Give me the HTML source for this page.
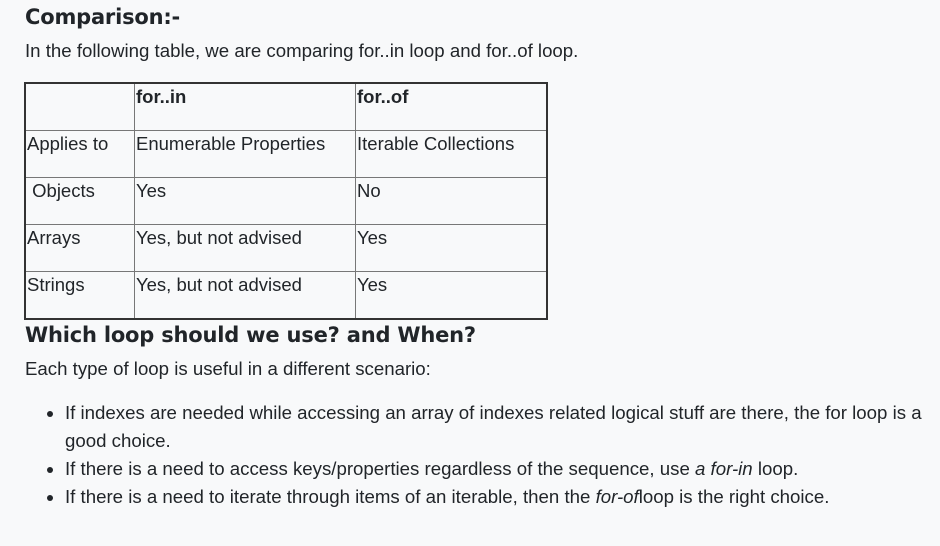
<!DOCTYPE html>
<html><head><meta charset="utf-8"><style>
html,body{margin:0;padding:0;width:940px;height:546px;background:#f8f9fa;overflow:hidden;}
body{font-family:"Liberation Sans",Arial,sans-serif;color:#212529;position:relative;}
.a{position:absolute;white-space:nowrap;}
.t{font-size:18.65px;line-height:20px;}
table{position:absolute;left:24px;top:82px;border-collapse:collapse;border:2px solid #333;font-size:18.5px;}
td{border:1px solid #777;height:43px;vertical-align:top;padding:3px 1px 0 1px;line-height:20px;}
i{font-style:italic;}
.dot{position:absolute;width:6px;height:6px;border-radius:50%;background:#212529;}
.hd{font-size:21px;line-height:28px;font-family:'DejaVu Sans','Liberation Sans',sans-serif;font-weight:bold;letter-spacing:-0.2px;}
</style></head><body>
<div class="a hd" style="left:25px;top:3px;">Comparison:-</div>
<div class="a t" style="left:25px;top:41px;">In the following table, we are comparing for..in loop and for..of loop.</div>
<table>
<tr><td style="width:106px"></td><td style="width:218px"><b>for..in</b></td><td style="width:188px"><b>for..of</b></td></tr>
<tr><td>Applies to</td><td>Enumerable Properties</td><td>Iterable Collections</td></tr>
<tr><td>&nbsp;Objects</td><td>Yes</td><td>No</td></tr>
<tr><td>Arrays</td><td>Yes, but not advised</td><td>Yes</td></tr>
<tr><td>Strings</td><td>Yes, but not advised</td><td>Yes</td></tr>
</table>
<div class="a hd" style="left:25px;top:321px;">Which loop should we use? and When?</div>
<div class="a t" style="left:25px;top:359px;">Each type of loop is useful in a different scenario:</div>
<div class="dot" style="left:47px;top:411px"></div>
<div class="a t" style="left:65px;top:403px;">If indexes are needed while accessing an array of indexes related logical stuff are there, the for loop is a</div>
<div class="a t" style="left:65px;top:431px;">good choice.</div>
<div class="dot" style="left:47px;top:467px"></div>
<div class="a t" style="left:65px;top:459px;">If there is a need to access keys/properties regardless of the sequence, use <i>a for-in</i> loop.</div>
<div class="dot" style="left:47px;top:495px"></div>
<div class="a t" style="left:65px;top:487px;">If there is a need to iterate through items of an iterable, then the <i>for-of</i>loop is the right choice.</div>
</body></html>
